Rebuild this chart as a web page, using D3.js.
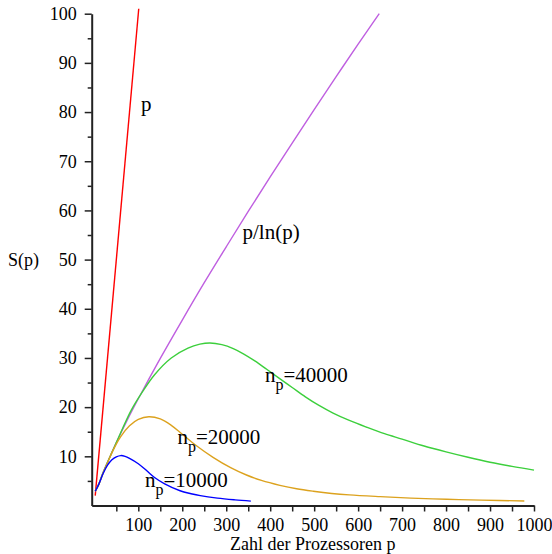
<!DOCTYPE html>
<meta charset="utf-8">
<style>
body { margin: 0; background: #fff; }
svg text { font-family: "Liberation Serif", "Times New Roman", serif !important; }
.axis path, .axis line { stroke: #222; }
.curve { fill: none; stroke-width: 1.4; }
</style>
<body>
<script src="https://cdn.jsdelivr.net/npm/d3@7"></script>
<script>
var serif = "'Liberation Serif', 'Times New Roman', serif";

// values: [p, S(p)]
var speedupLinear = [[2, 2], [101, 101]];
var speedupLog = [[2, 2.9], [10, 4.3], [20, 6.7], [35, 9.8], [50, 12.8], [75, 17.4], [100, 21.7],
  [150, 29.9], [200, 37.7], [250, 45.3], [300, 52.6], [350, 59.8], [400, 66.8],
  [450, 73.7], [500, 80.5], [550, 87.2], [600, 93.8], [648, 100]];
var speedup10000 = [[2, 2.9], [10, 4.3], [20, 6.5], [30, 8.2], [40, 9.3], [50, 9.9], [60, 10.15],
  [70, 10.0], [80, 9.6], [100, 8.5], [120, 7.0], [137, 5.7], [160, 4.4], [195, 3.0],
  [220, 2.4], [241, 2.0], [280, 1.5], [320, 1.15], [356, 0.9]];
var speedup20000 = [[2, 2.9], [10, 4.3], [20, 6.6], [30, 8.7], [42, 11.1], [60, 14.0], [80, 16.2],
  [100, 17.5], [124, 18.05], [150, 17.6], [175, 16.3], [200, 14.5], [230, 12.3],
  [270, 9.8], [310, 7.7], [346, 6.2], [380, 5.1], [422, 4.1], [460, 3.4], [498, 2.9],
  [540, 2.45], [580, 2.15], [650, 1.8], [720, 1.5], [801, 1.27], [880, 1.1], [978, 0.92]];
var speedup40000 = [[2, 2.9], [10, 4.3], [20, 6.7], [50, 12.8], [84, 19.4], [110, 23.2],
  [137, 26.6], [175, 30.0], [213, 32.0], [240, 32.8], [263, 33.05], [290, 32.7],
  [316, 31.9], [340, 30.8], [365, 29.4], [392, 27.7], [420, 25.9], [450, 24.0],
  [480, 22.1], [510, 20.4], [543, 18.8], [580, 17.3], [620, 15.9], [660, 14.6],
  [700, 13.5], [750, 12.1], [800, 10.9], [850, 9.8], [900, 8.8], [950, 7.95], [1000, 7.2]];

var series = [
  {data: speedupLinear, color: "#ff0000"},
  {data: speedupLog, color: "#bf5fe0"},
  {data: speedup40000, color: "#3ccf3c"},
  {data: speedup20000, color: "#dca21e"},
  {data: speedup10000, color: "#0000ff"}
];

// curve labels, anchored in data units
var labels = [
  {x: 106, y: 80.2, main: "p"},
  {x: 337, y: 54.2, main: "p/ln(p)"},
  {x: 388, y: 25.2, main: "n", sub: "p", rest: "=40000"},
  {x: 189, y: 12.6, main: "n", sub: "p", rest: "=20000"},
  {x: 115, y: 3.8, main: "n", sub: "p", rest: "=10000"}
];

var width = 552, height = 554;
var x = d3.scaleLinear().domain([-6, 1000]).range([91.7, 534]);
var y = d3.scaleLinear().domain([0, 100]).range([505.5, 13.7]);

var svg = d3.select("body").append("svg")
    .attr("width", width)
    .attr("height", height);

// x axis: minor ticks every 50, labels every 100
var xAxis = svg.append("g")
    .attr("class", "axis")
    .attr("transform", "translate(0," + y(0) + ")")
    .call(d3.axisBottom(x).tickValues(d3.range(50, 1001, 50))
      .tickSize(6).tickSizeOuter(0)
      .tickFormat(function(d) { return d % 100 === 0 ? d : ""; }));
xAxis.attr("font-family", serif).attr("font-size", 18);
xAxis.select(".domain").attr("stroke-width", 2);
xAxis.selectAll("line").attr("stroke-width", 1.5);
xAxis.selectAll("text").attr("fill", "#000").attr("dy", "0.9em")
    .style("font-family", serif);

var yAxis = svg.append("g")
    .attr("class", "axis")
    .attr("transform", "translate(" + x(-6) + ",0)")
    .call(d3.axisLeft(y).tickValues(d3.range(5, 101, 5))
      .tickSize(7).tickSizeOuter(0)
      .tickFormat(function(d) { return d % 10 === 0 ? d : ""; }));
yAxis.attr("font-family", serif).attr("font-size", 18);
yAxis.select(".domain").attr("stroke-width", 2);
yAxis.selectAll("line").attr("stroke-width", 1.5)
    .attr("x2", function(d) { return d % 10 === 0 ? -7 : -4; });
yAxis.selectAll("text").attr("fill", "#000").attr("x", -15)
    .style("font-family", serif);

var line = d3.line()
    .x(function(d) { return x(d[0]); })
    .y(function(d) { return y(d[1]); })
    .curve(d3.curveCatmullRom);

svg.selectAll(".curve")
    .data(series)
  .enter().append("path")
    .attr("class", "curve")
    .attr("stroke", function(d) { return d.color; })
    .attr("d", function(d) { return line(d.data); });

// labels
labels.forEach(function(l) {
  var t = svg.append("text")
      .attr("x", x(l.x))
      .attr("y", y(l.y))
      .attr("font-size", 21);
  t.append("tspan").text(l.main);
  if (l.sub) {
    t.append("tspan").attr("font-size", 16).attr("dy", 8).text(l.sub);
    t.append("tspan").attr("dy", -8).text(l.rest);
  }
});

// axis titles
svg.append("text")
    .attr("x", (x(-6) + x(1000)) / 2)
    .attr("y", 550)
    .attr("text-anchor", "middle")
    .attr("font-size", 18)
    .text("Zahl der Prozessoren p");

svg.append("text")
    .attr("x", 8)
    .attr("y", 266)
    .attr("font-size", 18)
    .text("S(p)");
</script>
</body>
